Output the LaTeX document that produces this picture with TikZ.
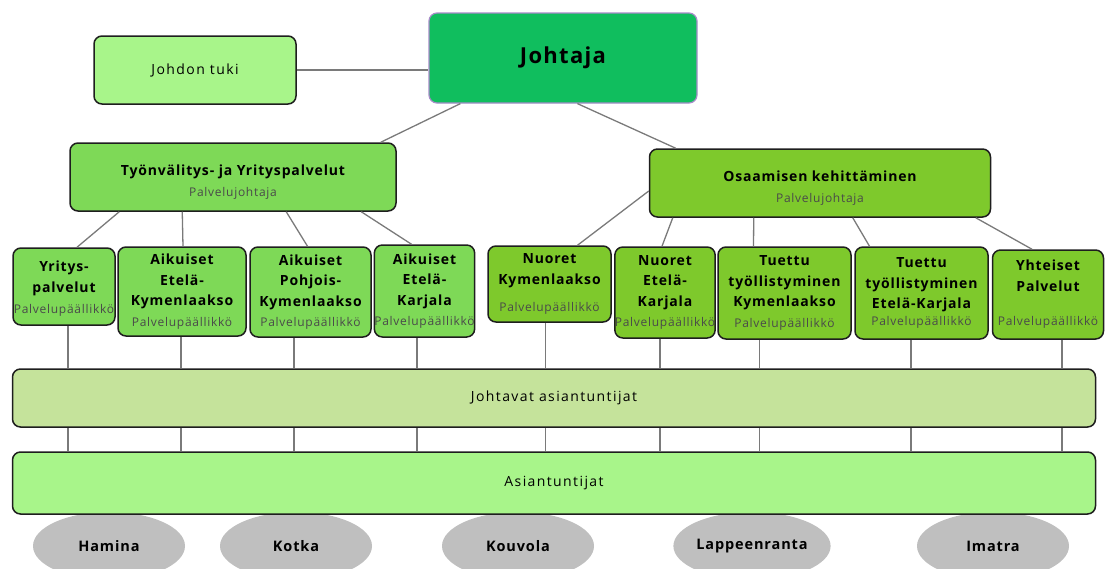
\documentclass[tikz,border=0pt]{standalone}
\usepackage{fontspec}
\setmainfont{Open Sans}[LetterSpace=10]
\newfontfamily\titlefont{Open Sans}[LetterSpace=6]
\usetikzlibrary{shapes.geometric}
\definecolor{topgreen}{HTML}{10BE5E}
\definecolor{topline}{HTML}{A68BC8}
\definecolor{palegreen}{HTML}{A8F58A}
\definecolor{leftgreen}{HTML}{7ED957}
\definecolor{rightgreen}{HTML}{7EC92C}
\definecolor{olivebar}{HTML}{C5E39B}
\definecolor{towngray}{HTML}{BFBFBF}
\definecolor{linkgray}{HTML}{7A7A7A}
\definecolor{boxline}{HTML}{1E1E1E}
\definecolor{subgray}{HTML}{4A4A4A}
\newcommand{\rolename}[1]{{\fontsize{12}{14}\selectfont\mdseries\color{subgray}#1}}

\begin{document}
\begin{tikzpicture}[
x=1pt, y=-1pt,
every node/.style={inner sep=0pt},
boxbase/.style={
  draw=boxline,
  line width=1.5pt,
  rounded corners=8pt,
  align=center
  },
topbox/.style={boxbase, draw=topline, line width=1.2pt, fill=topgreen,
  font=\titlefont\fontsize{22}{26}\selectfont\bfseries},
parentbox/.style={boxbase, font=\titlefont\fontsize{14}{21}\selectfont\bfseries},
unitbox/.style={boxbase, font=\titlefont\fontsize{14}{20.5}\selectfont\bfseries},
barbox/.style={boxbase, minimum width=1083pt, font=\fontsize{14}{16}\selectfont},
town/.style={ellipse, fill=towngray, minimum width=152pt, minimum height=68pt,
  font=\titlefont\fontsize{14.5}{16}\selectfont\bfseries},
link/.style={draw=linkgray, line width=1.3pt}
]
\useasboundingbox (0,0) rectangle (1106,568);
\clip (0,0) rectangle (1106,568);

\node[town] (hamina) at (109,546) {Hamina};
\node[town] (kotka) at (296,546) {Kotka};
\node[town] (kouvola) at (518,546) {Kouvola};
\node[town] (lpr) at (752,546) {Lappeenranta};
\node[town] (imatra) at (993,546) {Imatra};

\node[topbox, minimum width=268pt, minimum height=90pt] (johtaja) at (563,58) {Johtaja};
\node[boxbase, fill=palegreen, minimum width=202pt, minimum height=68pt,
  font=\fontsize{14}{16}\selectfont] (tuki) at (195,70) {Johdon tuki};

\node[parentbox, fill=leftgreen, minimum width=326pt, minimum height=68pt] (tyo) at (233,177)
  {\rule{0pt}{21pt}Työnvälitys- ja Yrityspalvelut\\\rolename{Palvelujohtaja}};
\node[parentbox, fill=rightgreen, minimum width=341pt, minimum height=68pt] (osa) at (820,183)
  {\rule{0pt}{21pt}Osaamisen kehittäminen\\\rolename{Palvelujohtaja}};

\node[unitbox, fill=leftgreen, minimum width=102pt, minimum height=77pt] (yri) at (64,286.5)
  {\rule{0pt}{15pt}Yritys-\\palvelut\\[1pt]\rolename{Palvelupäällikkö}};
\node[unitbox, fill=leftgreen, minimum width=128pt, minimum height=89pt] (aek) at (182,291.5)
  {Aikuiset\\Etelä-\\Kymenlaakso\\\rolename{Palvelupäällikkö}};
\node[unitbox, fill=leftgreen, minimum width=121pt, minimum height=90pt] (apk) at (310.5,292)
  {Aikuiset\\Pohjois-\\Kymenlaakso\\\rolename{Palvelupäällikkö}};
\node[unitbox, fill=leftgreen, minimum width=99pt, minimum height=92pt] (aka) at (424.5,291)
  {Aikuiset\\Etelä-\\Karjala\\\rolename{Palvelupäällikkö}};

\node[unitbox, fill=rightgreen, minimum width=123pt, minimum height=76pt] (nky) at (549.5,284)
  {Nuoret\\Kymenlaakso\\[7pt]\rolename{Palvelupäällikkö}};
\node[unitbox, fill=rightgreen, minimum width=100pt, minimum height=91pt] (nka) at (665,292.5)
  {Nuoret\\Etelä-\\Karjala\\\rolename{Palvelupäällikkö}};
\node[unitbox, fill=rightgreen, minimum width=133pt, minimum height=92pt] (ttk) at (784.5,293)
  {Tuettu\\työllistyminen\\Kymenlaakso\\\rolename{Palvelupäällikkö}};
\node[unitbox, fill=rightgreen, minimum width=133pt, minimum height=92pt] (tte) at (921.5,293)
  {Tuettu\\työllistyminen\\Etelä-Karjala\\[-4pt]\rolename{Palvelupäällikkö}};
\node[unitbox, fill=rightgreen, minimum width=111pt, minimum height=89pt] (yht) at (1048,294.5)
  {Yhteiset\\Palvelut\\[14pt]\rolename{Palvelupäällikkö}};

\node[barbox, fill=olivebar, minimum height=58pt] (jas) at (554,398) {Johtavat asiantuntijat};
\node[barbox, fill=palegreen, minimum height=62pt] (asi) at (554,483) {Asiantuntijat};

\draw[link] (tuki.east) -- (tuki.east -| johtaja.west);
\draw[link] ([xshift=32]johtaja.south west) -- ([xshift=-16]tyo.north east);
\draw[link] ([xshift=149]johtaja.south west) -- ([xshift=27]osa.north west);

\foreach \s/\c/\e in {50/yri/13, 113/aek/1, 217/apk/-3, 292/aka/-13}
  \draw[link] ([xshift=\s]tyo.south west) -- ([xshift=\e]\c.north);
\draw[link] ([yshift=-8]osa.west) -- ([xshift=28]nky.north);
\foreach \s/\c/\e in {24/nka/-3, 105/ttk/-31, 204/tte/-52, 327/yht/-16}
  \draw[link] ([xshift=\s]osa.south west) -- ([xshift=\e]\c.north);

\foreach \c/\d in {yri/4, aek/-1, apk/-16.5, aka/-7.5, nky/-4, nka/-5, ttk/-25, tte/-10.5, yht/14}
  \draw[link] ([xshift=\d]\c.south) -- ([xshift=\d]\c.south |- jas.north)
              ([xshift=\d]\c.south |- jas.south) -- ([xshift=\d]\c.south |- asi.north);
\end{tikzpicture}
\end{document}
